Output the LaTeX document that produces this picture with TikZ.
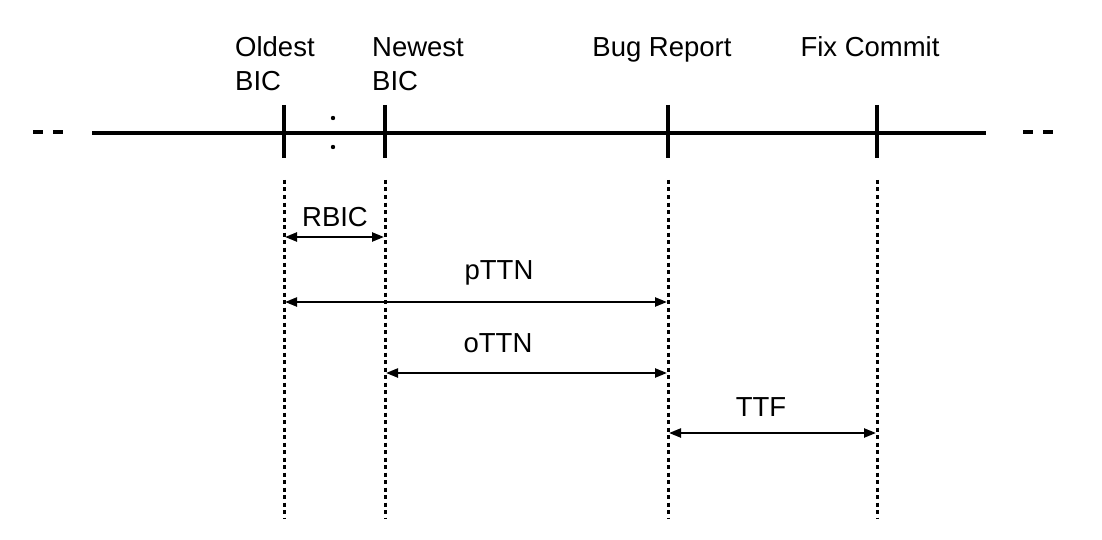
\documentclass[tikz,border=0pt]{standalone}
\usepackage{fontspec}
\setmainfont{Liberation Sans}
\usetikzlibrary{arrows.meta}
\begin{document}
\begin{tikzpicture}[x=1pt,y=-1pt,
  lbl/.style={font=\fontsize{27.5}{33}\selectfont, inner sep=0pt, anchor=base},
  tick/.style={line width=4pt},
  guide/.style={line width=3pt, dash pattern=on 4pt off 3.5pt},
  span/.style={line width=2.3pt, {Triangle[length=12pt,width=9pt]}-{Triangle[length=12pt,width=9pt]}, shorten <=1pt, shorten >=1pt}]
\useasboundingbox (0,0) rectangle (1102,540);
% main timeline
\coordinate (ls) at (92,133);
\coordinate (le) at (986,133);
\draw[line width=4.5pt] (ls) -- (le);
\coordinate (d1a) at (33,132); \coordinate (d1b) at (43,132);
\coordinate (d2a) at (53,132); \coordinate (d2b) at (63,132);
\coordinate (d3a) at (1023,132); \coordinate (d3b) at (1033,132);
\coordinate (d4a) at (1043,132); \coordinate (d4b) at (1053,132);
\draw[line width=4.5pt] (d1a) -- (d1b) (d2a) -- (d2b) (d3a) -- (d3b) (d4a) -- (d4b);
% ticks
\foreach \n/\x in {old/284, new/385, bug/668, fix/877}{
  \coordinate (\n-t) at (\x,105);
  \coordinate (\n-b) at (\x,158);
  \draw[tick] (\n-t) -- (\n-b);
  \coordinate (\n-gt) at (\x,180);
  \coordinate (\n-gb) at (\x,519);
  \draw[guide] (\n-gt) -- (\n-gb);
}
% dots
\fill (333,118) circle (2.2pt);
\fill (333,147) circle (2.2pt);
% top labels
\node[lbl, anchor=base west] (oldL1) at (235,57) {Oldest};
\node[lbl, anchor=base west] (oldL2) at (235,91) {BIC};
\node[lbl, anchor=base west] (newL1) at (372,57) {Newest};
\node[lbl, anchor=base west] (newL2) at (372,91) {BIC};
\node[lbl] (bugL) at (662,57) {Bug Report};
\node[lbl] (fixL) at (870,57) {Fix Commit};
% spans
\coordinate (r1) at (284,237); \coordinate (r2) at (385,237);
\draw[span] (r1) -- (r2);
\node[lbl] (rbic) at (335,226) {RBIC};
\coordinate (p1) at (284,302); \coordinate (p2) at (668,302);
\draw[span] (p1) -- (p2);
\node[lbl] (pttn) at (499,279) {pTTN};
\coordinate (o1) at (385,373); \coordinate (o2) at (668,373);
\draw[span] (o1) -- (o2);
\node[lbl] (ottn) at (498,352) {oTTN};
\coordinate (t1) at (668,433); \coordinate (t2) at (877,433);
\draw[span] (t1) -- (t2);
\node[lbl] (ttf) at (761,416) {TTF};
\end{tikzpicture}
\end{document}
